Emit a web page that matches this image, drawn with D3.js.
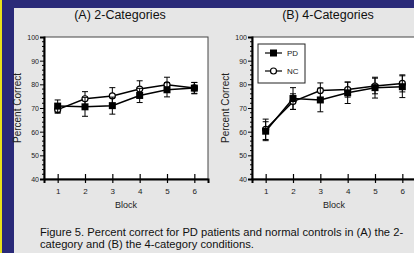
<!DOCTYPE html>
<html>
<head>
<meta charset="utf-8">
<script src="https://cdn.jsdelivr.net/npm/d3@7"></script>
<style>
  body { margin: 0; padding: 0; overflow: hidden; }
  svg { display: block; font-family: "Liberation Sans", Arial, sans-serif; }
</style>
</head>
<body>
<div id="chart"></div>
<script>
// Percent correct by block, PD patients vs normal controls

const blocks = [1, 2, 3, 4, 5, 6];
const yTicks = [40, 50, 60, 70, 80, 90, 100];

// (A) 2-Categories
const pd2 = [70.8, 70.5, 71.0, 75.3, 77.7, 78.4];
const pd2Err = [2.6, 4.0, 3.6, 3.0, 3.0, 2.4];
const nc2 = [69.3, 73.9, 75.1, 78.0, 79.8, 78.5];
const nc2Err = [1.5, 3.0, 3.5, 3.5, 3.2, 2.3];

// (B) 4-Categories
const pd4 = [60.2, 74.0, 73.4, 76.4, 78.6, 79.0];
const pd4Err = [4.0, 4.6, 5.0, 4.5, 4.4, 4.6];
const nc4 = [61.0, 72.7, 77.4, 77.8, 79.3, 80.4];
const nc4Err = [4.3, 3.3, 3.2, 3.2, 3.3, 3.6];

const W = 414, H = 253;
const FONT = '"Liberation Sans", Arial, sans-serif';

const svg = d3.select("#chart")
    .append("svg")
    .attr("width", W)
    .attr("height", H);

// background frame
svg.append("rect").attr("width", W).attr("height", H).attr("fill", "#2a2a78");
svg.append("rect").attr("x", 0).attr("width", 2).attr("height", H).attr("fill", "#e8e21a");
svg.append("rect").attr("x", 14).attr("y", 8).attr("width", W - 14).attr("height", H - 8).attr("fill", "#e6e6e6");

function drawPanel(left, title, pd, pdErr, nc, ncErr, showLegend) {
    const top = 37, bottom = 179;
    const x = d3.scaleLinear().domain([0.5, 6.5]).range([left, left + 164]);
    const y = d3.scaleLinear().domain([40, 100]).range([bottom, top]);

    const g = svg.append("g");

    // title
    g.append("text")
        .attr("x", left + 76)
        .attr("y", 18.5)
        .attr("text-anchor", "middle")
        .style("font-size", "12.5px")
        .attr("fill", "#111")
        .text(title);

    // plot area
    g.append("rect")
        .attr("x", x.range()[0])
        .attr("y", top)
        .attr("width", x.range()[1] - x.range()[0])
        .attr("height", bottom - top)
        .attr("fill", "#fff")
        .attr("stroke", "#444")
        .attr("stroke-width", 1);

    // y axis
    const yAxis = g.append("g")
        .attr("transform", `translate(${x.range()[0]},0)`)
        .call(d3.axisLeft(y).tickValues(yTicks).tickSize(4).tickPadding(1))
        .attr("font-family", FONT);
    yAxis.select(".domain").attr("stroke-width", 2);
    yAxis.selectAll("text").style("font-size", "7px").attr("dy", "0.35em").attr("fill", "#222");

    // minor y ticks
    g.append("g")
        .selectAll("line")
        .data(d3.range(42, 100, 2).filter(v => v % 10 !== 0))
        .enter()
        .append("line")
        .attr("x1", x.range()[0] - 2)
        .attr("x2", x.range()[0])
        .attr("y1", d => y(d))
        .attr("y2", d => y(d))
        .attr("stroke", "#000")
        .attr("stroke-width", 1);

    // x axis
    const xAxis = g.append("g")
        .attr("transform", `translate(0,${bottom})`)
        .call(d3.axisBottom(x).tickValues(blocks).tickFormat(d3.format("d")).tickSize(4).tickPadding(5))
        .attr("font-family", FONT);
    xAxis.select(".domain").attr("stroke-width", 2);
    xAxis.selectAll(".tick line").attr("y1", -5).attr("stroke-width", 1.2);
    xAxis.selectAll("text").style("font-size", "8px").attr("fill", "#222");

    // axis labels
    g.append("text")
        .attr("transform", `translate(${left - 23},${(top + bottom) / 2}) rotate(-90)`)
        .attr("text-anchor", "middle")
        .style("font-size", "10px")
        .attr("fill", "#222")
        .text("Percent Correct");

    g.append("text")
        .attr("x", x(3.5))
        .attr("y", 208)
        .attr("text-anchor", "middle")
        .style("font-size", "9px")
        .attr("fill", "#222")
        .text("Block");

    const line = d3.line()
        .x((d, i) => x(blocks[i]))
        .y(d => y(d));

    function series(vals, errs, filled) {
        const s = g.append("g");
        s.append("path")
            .datum(vals)
            .attr("d", line)
            .attr("fill", "none")
            .attr("stroke", "#000")
            .attr("stroke-width", 1.5);

        const eb = s.selectAll(".err")
            .data(vals)
            .enter()
            .append("g");
        eb.append("line")
            .attr("x1", (d, i) => x(blocks[i])).attr("x2", (d, i) => x(blocks[i]))
            .attr("y1", (d, i) => y(d + errs[i])).attr("y2", (d, i) => y(d - errs[i]))
            .attr("stroke", "#000").attr("stroke-width", 1);
        [1, -1].forEach(sign => {
            eb.append("line")
                .attr("x1", (d, i) => x(blocks[i]) - 3).attr("x2", (d, i) => x(blocks[i]) + 3)
                .attr("y1", (d, i) => y(d + sign * errs[i])).attr("y2", (d, i) => y(d + sign * errs[i]))
                .attr("stroke", "#000").attr("stroke-width", 1);
        });

        if (filled) {
            s.selectAll(".sq")
                .data(vals)
                .enter()
                .append("rect")
                .attr("x", (d, i) => x(blocks[i]) - 3.5)
                .attr("y", d => y(d) - 3.5)
                .attr("width", 7)
                .attr("height", 7)
                .attr("fill", "#000");
        } else {
            s.selectAll(".ci")
                .data(vals)
                .enter()
                .append("circle")
                .attr("cx", (d, i) => x(blocks[i]))
                .attr("cy", d => y(d))
                .attr("r", 3)
                .attr("fill", "#fff")
                .attr("stroke", "#000")
                .attr("stroke-width", 1.2);
        }
    }

    series(nc, ncErr, false);
    series(pd, pdErr, true);

    if (showLegend) {
        const lg = g.append("g");
        lg.append("rect")
            .attr("x", left + 6).attr("y", 44)
            .attr("width", 47).attr("height", 39)
            .attr("fill", "#fff").attr("stroke", "#222").attr("stroke-width", 1);
        [["PD", true, 53], ["NC", false, 71]].forEach(([name, filled, ly]) => {
            lg.append("line")
                .attr("x1", left + 13).attr("x2", left + 30)
                .attr("y1", ly).attr("y2", ly)
                .attr("stroke", "#000").attr("stroke-width", 1.2);
            if (filled) {
                lg.append("rect")
                    .attr("x", left + 18).attr("y", ly - 3.5)
                    .attr("width", 7).attr("height", 7).attr("fill", "#000");
            } else {
                lg.append("circle")
                    .attr("cx", left + 21.5).attr("cy", ly).attr("r", 3)
                    .attr("fill", "#fff").attr("stroke", "#000").attr("stroke-width", 1.2);
            }
            lg.append("text")
                .attr("x", left + 35).attr("y", ly + 3)
                .style("font-size", "8px")
                .attr("fill", "#222")
                .text(name);
        });
    }
}

drawPanel(44, "(A) 2-Categories", pd2, pd2Err, nc2, nc2Err, false);
drawPanel(252, "(B) 4-Categories", pd4, pd4Err, nc4, nc4Err, true);

// caption
const caption = svg.append("text")
    .style("font-size", "11.2px")
    .attr("fill", "#111");
caption.append("tspan").attr("x", 40).attr("y", 236)
    .text("Figure 5. Percent correct for PD patients and normal controls in (A) the 2-");
caption.append("tspan").attr("x", 40).attr("y", 247.5)
    .text("category and (B) the 4-category conditions.");
</script>
</body>
</html>
